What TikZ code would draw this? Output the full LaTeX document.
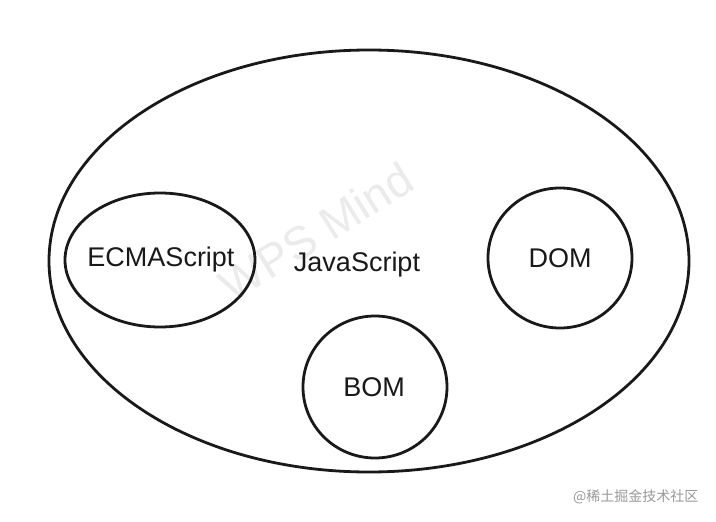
\documentclass[tikz,border=0pt]{standalone}
\usepackage{fontspec}
\setmainfont{Liberation Sans}
\newfontfamily\cjk{Noto Sans CJK SC}
\begin{document}
\begin{tikzpicture}[x=1pt,y=-1pt,
  set/.style={draw=black!90,line width=2.8pt},
  lbl/.style={font=\fontsize{27}{32}\selectfont,text=black!90}]
\useasboundingbox[fill=white] (0,0) rectangle (716,522);
\node[rotate=32,text=black!8,font=\fontsize{46}{50}\selectfont] (wm) at (316,232) {WPS Mind};
\draw[set] (369,261) ellipse [x radius=320,y radius=211];
\draw[set] (160,260) ellipse [x radius=95,y radius=67];
\draw[set] (560,258) ellipse [x radius=72,y radius=70];
\draw[set] (375,387) ellipse [x radius=72,y radius=71];
\node[lbl] (ecma) at (161,260) {ECMAScript};
\node[lbl] (js) at (357,265) {JavaScript};
\node[lbl] (dom) at (560,258) {DOM};
\node[lbl] (bom) at (374,387) {BOM};
\node[text=black!40,font=\cjk\fontsize{14}{16}\selectfont,anchor=east] (src) at (702,497) {@稀土掘金技术社区};
\end{tikzpicture}
\end{document}
